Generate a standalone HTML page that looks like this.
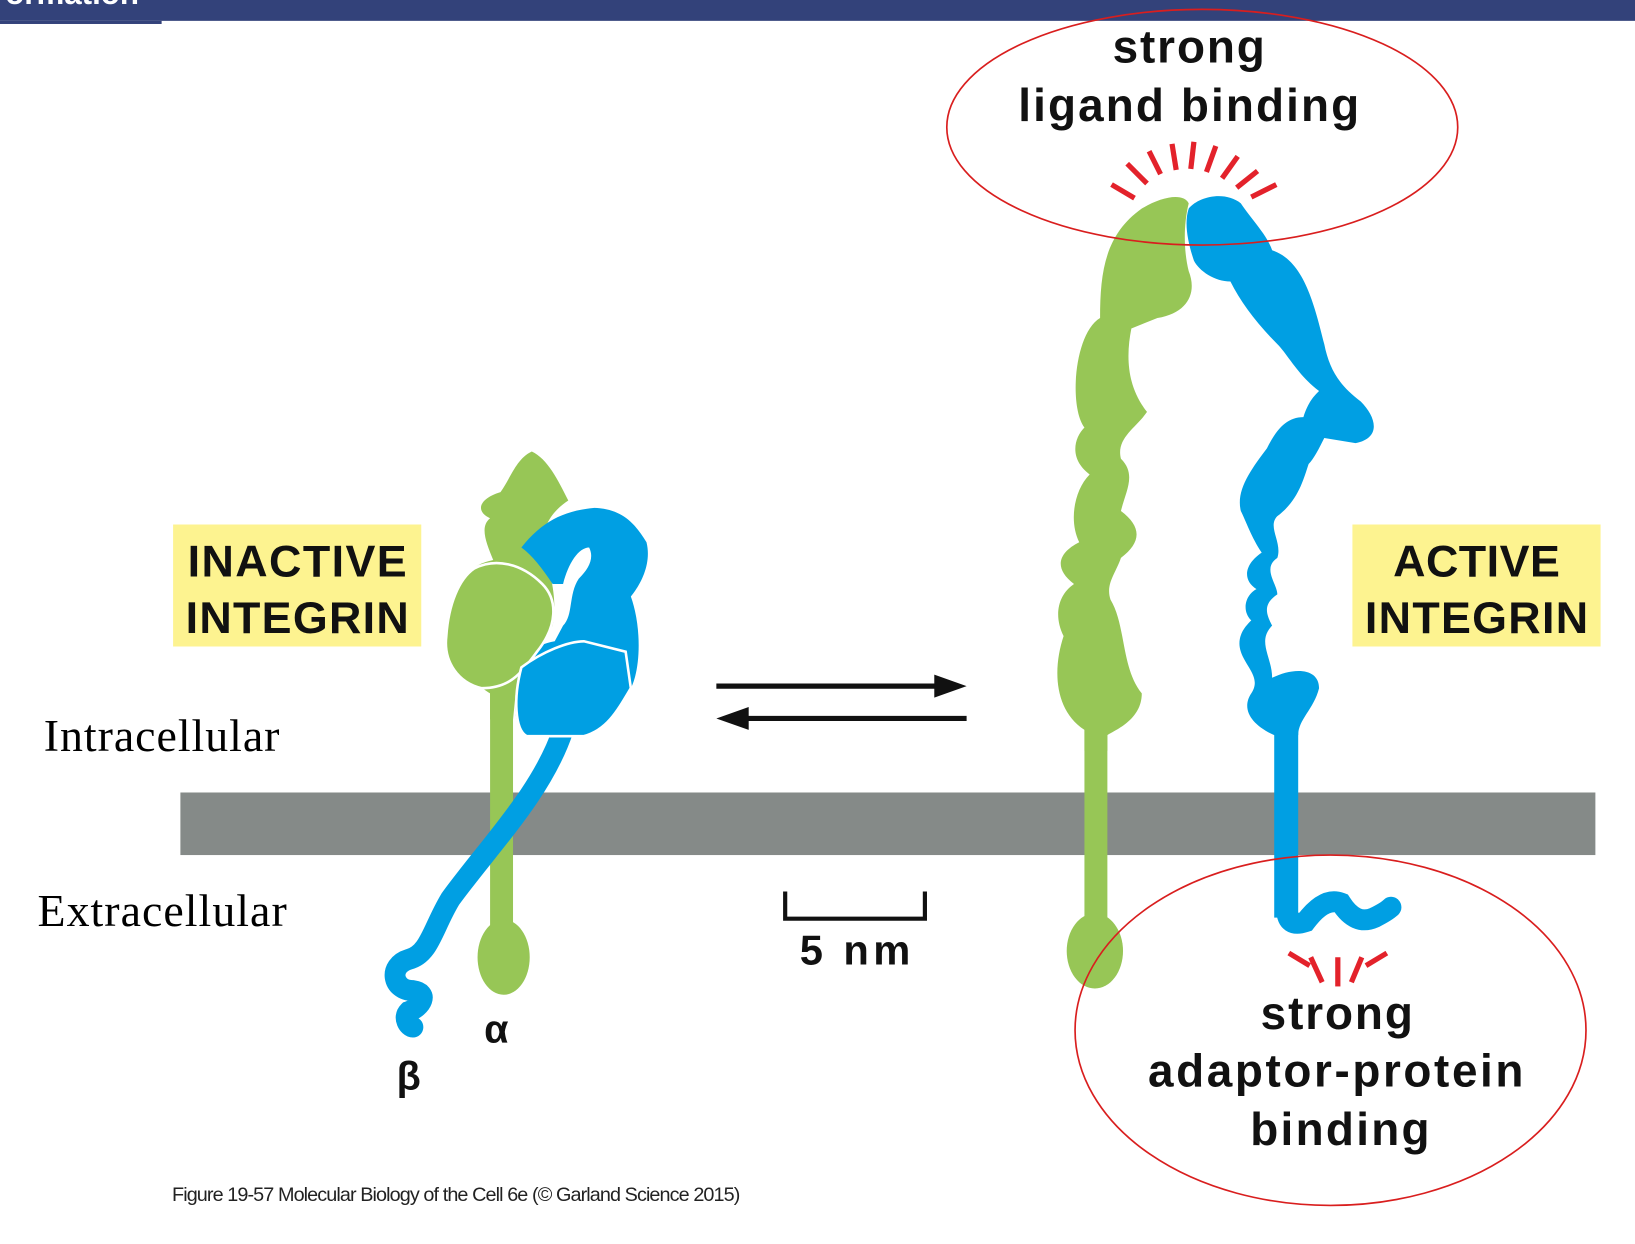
<!DOCTYPE html>
<html><head><style>
html,body{margin:0;padding:0;background:#fff;}
svg{display:block;}
</style></head><body>
<svg width="1635" height="1244" viewBox="0 0 1568 1193" preserveAspectRatio="none" xmlns="http://www.w3.org/2000/svg">
<rect x="0" y="0" width="1568" height="20" fill="#33427a"/>
<rect x="0" y="20" width="155" height="3" fill="#33427a"/>
<text x="5" y="4" font-family="Liberation Sans, sans-serif" font-weight="bold" font-size="30" fill="#fff">ormation</text>

<rect x="173" y="760" width="1357" height="60" fill="#858a88"/>

<text x="42" y="720" font-family="Liberation Serif, serif" font-size="44" textLength="226" fill="#000">Intracellular</text>
<text x="36" y="888" font-family="Liberation Serif, serif" font-size="44" textLength="239" fill="#000">Extracellular</text>

<rect x="166" y="503" width="238" height="117" fill="#fdf390"/>
<text x="285" y="553" text-anchor="middle" font-family="Liberation Sans, sans-serif" font-weight="bold" font-size="43" textLength="210" fill="#111">INACTIVE</text>
<text x="285" y="607" text-anchor="middle" font-family="Liberation Sans, sans-serif" font-weight="bold" font-size="43" textLength="214" fill="#111">INTEGRIN</text>
<rect x="1297" y="503" width="238" height="117" fill="#fdf390"/>
<text x="1416" y="553" text-anchor="middle" font-family="Liberation Sans, sans-serif" font-weight="bold" font-size="43" textLength="160" fill="#111">ACTIVE</text>
<text x="1416" y="607" text-anchor="middle" font-family="Liberation Sans, sans-serif" font-weight="bold" font-size="43" textLength="214" fill="#111">INTEGRIN</text>

<line x1="687" y1="658" x2="900" y2="658" stroke="#111" stroke-width="5"/>
<polygon points="927,658 896,647 896,669" fill="#111"/>
<line x1="715" y1="689" x2="927" y2="689" stroke="#111" stroke-width="5"/>
<polygon points="687,689 718,678 718,700" fill="#111"/>

<path d="M753,855 L753,881 L887,881 L887,855" fill="none" stroke="#111" stroke-width="4"/>
<text x="820" y="925" text-anchor="middle" font-family="Liberation Sans, sans-serif" font-weight="bold" font-size="40" textLength="106" fill="#111">5 nm</text>

<rect x="470" y="640" width="22" height="260" fill="#97c656"/>
<ellipse cx="483" cy="918" rx="25" ry="36" fill="#97c656"/>
<path d="M540,700 C520,760 470,810 432,862 C415,890 412,915 392,920 C372,926 376,950 396,950 C412,952 404,966 392,970 C386,976 392,985 396,985" fill="none" stroke="#009fe3" stroke-width="20" stroke-linecap="round"/>
<path d="M470,690 L470,665 C455,655 425,635 430,615 C425,600 432,575 445,560 C448,545 460,540 473,537 C466,520 460,505 470,497 C455,490 460,478 480,472 C490,458 495,440 510,433 C525,440 535,460 545,480 C530,490 522,502 520,520 C528,550 535,575 530,600 C520,620 510,640 495,660 L492,690 Z" fill="#97c656"/>
<path d="M500,525 C520,500 540,490 570,487 C595,488 608,500 620,520 C625,540 615,560 605,572 C615,600 615,640 605,660 C592,682 582,700 560,706 L505,706 C494,700 492,680 496,652 C500,632 512,618 532,615 L540,600 C550,590 545,570 555,555 C565,545 570,535 565,525 C555,525 545,540 540,560 L530,560 C520,545 510,532 500,525 Z" fill="#009fe3"/>
<path d="M455,545 C475,535 500,540 520,560 C535,575 535,600 515,625 C500,645 490,660 462,660 C440,655 425,635 428,610 C430,580 440,555 455,545 Z" fill="#97c656" stroke="#fff" stroke-width="2.5"/>
<path d="M500,640 C520,625 545,615 560,615 L600,625 L605,660 C592,682 582,700 560,706 L505,706 C494,700 492,670 500,640 Z" fill="#009fe3" stroke="#fff" stroke-width="2.5"/>
<text x="476" y="1000" text-anchor="middle" font-family="Liberation Sans, sans-serif" font-weight="bold" font-size="38" fill="#111">α</text>
<text x="392" y="1045" text-anchor="middle" font-family="Liberation Sans, sans-serif" font-weight="bold" font-size="38" fill="#111">β</text>

<rect x="1040" y="690" width="22" height="210" fill="#97c656"/>
<ellipse cx="1050" cy="912" rx="27" ry="36" fill="#97c656"/>
<path d="M1040,700 C1010,680 1010,640 1020,610 C1010,590 1015,570 1030,560 C1010,545 1015,530 1035,520 C1025,500 1030,470 1045,455 C1025,440 1030,420 1040,410 C1025,390 1030,320 1055,305 C1055,260 1060,225 1095,200 C1115,188 1135,185 1140,195 C1135,215 1135,240 1140,260 C1148,280 1140,300 1110,305 L1085,315 C1080,340 1080,370 1100,395 C1090,410 1070,420 1075,440 C1090,455 1080,470 1075,490 C1095,505 1095,520 1075,535 C1070,550 1060,560 1065,575 C1080,600 1075,640 1095,665 C1095,690 1070,700 1062,705 L1062,720 L1040,720 Z" fill="#97c656"/>
<rect x="1222" y="690" width="23" height="190" fill="#009fe3"/>
<path d="M1234,820 L1234,872 Q1234,890 1252,884 Q1270,860 1286,866 Q1300,888 1318,880 Q1330,874 1334,870" fill="none" stroke="#009fe3" stroke-width="20" stroke-linecap="round"/>
<path d="M1140,200 C1150,188 1175,183 1190,195 C1200,210 1215,225 1220,240 C1250,250 1260,290 1270,330 C1275,355 1285,370 1305,385 C1320,400 1325,420 1300,425 L1270,420 C1265,430 1260,440 1255,445 C1250,460 1245,480 1225,495 C1215,505 1230,520 1225,535 C1210,545 1225,560 1225,570 C1210,580 1215,590 1220,600 C1205,615 1220,630 1220,650 C1240,640 1265,640 1265,660 C1260,680 1245,690 1245,705 L1222,705 C1200,695 1190,680 1200,665 C1210,650 1195,640 1190,625 C1185,610 1195,600 1200,595 C1190,585 1195,570 1205,565 C1190,555 1195,540 1210,530 C1200,515 1195,500 1190,490 C1185,470 1200,450 1215,430 C1225,410 1235,400 1250,400 C1255,385 1260,380 1265,375 C1245,360 1235,340 1225,330 C1205,310 1190,290 1180,270 C1165,270 1150,260 1145,250 C1140,235 1135,215 1140,200 Z" fill="#009fe3"/>

<g stroke="#e3222b" stroke-width="5" stroke-linecap="butt">
<line x1="1066" y1="177" x2="1088" y2="190"/>
<line x1="1081" y1="157" x2="1100" y2="176"/>
<line x1="1102" y1="145" x2="1113" y2="167"/>
<line x1="1124" y1="138" x2="1128" y2="163"/>
<line x1="1145" y1="136" x2="1142" y2="162"/>
<line x1="1166" y1="140" x2="1157" y2="165"/>
<line x1="1187" y1="150" x2="1172" y2="171"/>
<line x1="1206" y1="164" x2="1186" y2="180"/>
<line x1="1224" y1="177" x2="1200" y2="189"/>
<line x1="1236" y1="914" x2="1256" y2="926"/>
<line x1="1257" y1="918" x2="1268" y2="942"/>
<line x1="1283" y1="918" x2="1283" y2="946"/>
<line x1="1306" y1="918" x2="1296" y2="942"/>
<line x1="1330" y1="914" x2="1310" y2="926"/>
</g>

<ellipse cx="1153" cy="122" rx="245" ry="113" fill="none" stroke="#d91e1e" stroke-width="1.6"/>
<ellipse cx="1276" cy="988" rx="245" ry="168" fill="none" stroke="#d91e1e" stroke-width="1.6"/>

<g font-family="Liberation Sans, sans-serif" font-weight="bold" font-size="44" fill="#111" text-anchor="middle">
<text x="1140" y="60" textLength="146">strong</text>
<text x="1140" y="116" textLength="327">ligand binding</text>
<text x="1282" y="987" textLength="146">strong</text>
<text x="1281" y="1042" textLength="360">adaptor-protein</text>
<text x="1285" y="1098" textLength="172">binding</text>
</g>

<text x="165" y="1152" font-family="Liberation Sans Narrow, Liberation Sans, sans-serif" font-size="19" fill="#222" textLength="545">Figure 19-57  Molecular Biology of the Cell 6e (© Garland Science 2015)</text>
</svg>
</body></html>
